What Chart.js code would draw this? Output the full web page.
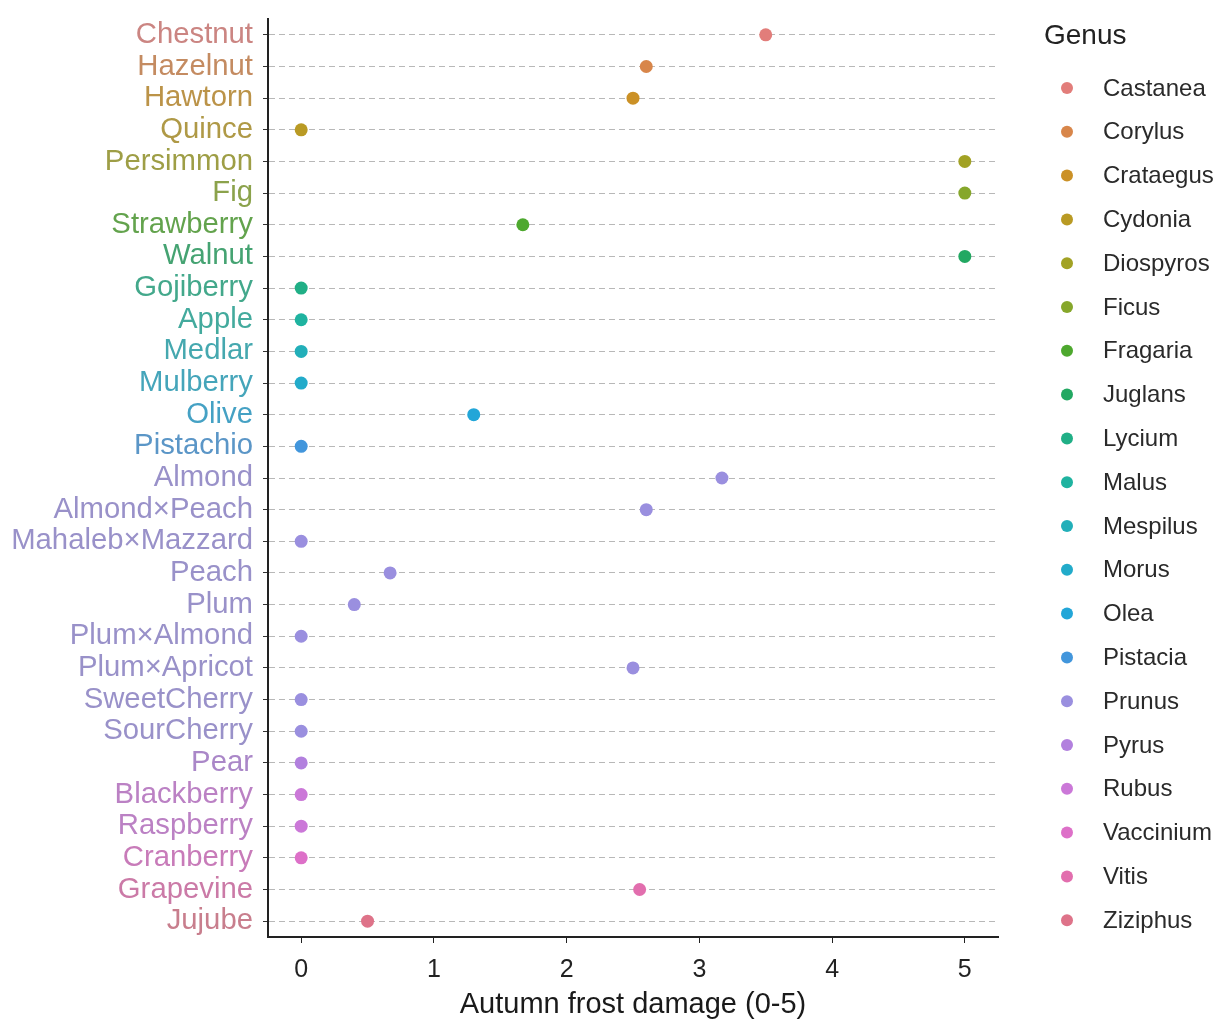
<!DOCTYPE html>
<html>
<head>
<meta charset="utf-8">
<title>Autumn frost damage</title>
<script src="https://cdn.jsdelivr.net/npm/chart.js@4.4.0/dist/chart.umd.min.js"></script>
<style>
  html, body { margin: 0; padding: 0; background: #fff; }
  #wrap { width: 1227px; height: 1024px; position: relative; }
</style>
</head>
<body>
<div id="wrap"><canvas id="frostChart"></canvas></div>
<script>
// ===== data =====
const fruits = [
  "Chestnut", "Hazelnut", "Hawtorn", "Quince", "Persimmon", "Fig", "Strawberry",
  "Walnut", "Gojiberry", "Apple", "Medlar", "Mulberry", "Olive", "Pistachio",
  "Almond", "Almond×Peach", "Mahaleb×Mazzard", "Peach", "Plum", "Plum×Almond",
  "Plum×Apricot", "SweetCherry", "SourCherry", "Pear", "Blackberry", "Raspberry",
  "Cranberry", "Grapevine", "Jujube"
];
const damage = [
  3.5, 2.6, 2.5, 0, 5, 5, 1.67,
  5, 0, 0, 0, 0, 1.3, 0,
  3.17, 2.6, 0, 0.67, 0.4, 0,
  2.5, 0, 0, 0, 0, 0,
  0, 2.55, 0.5
];
const fruitGenus = [
  "Castanea", "Corylus", "Crataegus", "Cydonia", "Diospyros", "Ficus", "Fragaria",
  "Juglans", "Lycium", "Malus", "Mespilus", "Morus", "Olea", "Pistacia",
  "Prunus", "Prunus", "Prunus", "Prunus", "Prunus", "Prunus",
  "Prunus", "Prunus", "Prunus", "Pyrus", "Rubus", "Rubus",
  "Vaccinium", "Vitis", "Ziziphus"
];
const genera = [
  "Castanea", "Corylus", "Crataegus", "Cydonia", "Diospyros", "Ficus", "Fragaria",
  "Juglans", "Lycium", "Malus", "Mespilus", "Morus", "Olea", "Pistacia",
  "Prunus", "Pyrus", "Rubus", "Vaccinium", "Vitis", "Ziziphus"
];
const genusColors = [
  "#E27D7A", "#D8864A", "#CB9126", "#B99A24", "#A2A224", "#86A72B", "#4DA82E",
  "#22A862", "#20AF86", "#1FB3A0", "#22AFB9", "#22ABCA", "#22A6D8", "#4296DC",
  "#9A8FDF", "#B280DE", "#CB78D8", "#DD70C8", "#E26EAE", "#DE7389"
];
const xTicks = [0, 1, 2, 3, 4, 5];

// ---- helpers ----
function colorOf(genus) {
  return genusColors[genera.indexOf(genus)];
}

// labels on the y axis are a greyer, lighter version of the point colour
function fade(hex, amt) {
  const n = parseInt(hex.slice(1), 16);
  const mix = (c) => Math.round(c + (150 - c) * amt);
  const r = mix((n >> 16) & 255), g = mix((n >> 8) & 255), b = mix(n & 255);
  return `rgb(${r},${g},${b})`;
}

const pointColors = fruitGenus.map(colorOf);
const labelColors = pointColors.map(c => fade(c, 0.3));

// ---- legend drawn on the right ----
const genusLegend = {
  id: "genusLegend",
  afterDraw(chart) {
    const { ctx, chartArea } = chart;
    const left = chartArea.right + 46;
    ctx.save();
    ctx.textBaseline = "middle";
    ctx.textAlign = "left";
    ctx.fillStyle = "#222";
    ctx.font = "28px 'Liberation Sans', Arial, sans-serif";
    ctx.fillText("Genus", left, 36);

    ctx.font = "24px 'Liberation Sans', Arial, sans-serif";
    const step = 43.8;
    genera.forEach((g, i) => {
      const y = 88 + i * step;
      ctx.beginPath();
      ctx.fillStyle = genusColors[i];
      ctx.arc(left + 23, y, 6, 0, Math.PI * 2);
      ctx.fill();
      ctx.fillStyle = "#2a2a2a";
      ctx.fillText(g, left + 59, y + 1);
    });
    ctx.restore();
  }
};

const ctx = document.getElementById("frostChart");
const chart = new Chart(ctx, {
  type: "scatter",
  data: {
    datasets: [{
      label: "Autumn frost damage",
      data: fruits.map((f, i) => ({ x: damage[i], y: f })),
      pointBackgroundColor: pointColors,
      pointBorderColor: pointColors,
      pointRadius: 6.5,
      pointHoverRadius: 6.5,
      borderWidth: 0
    }]
  },
  options: {
    responsive: true,
    maintainAspectRatio: false,
    animation: false,
    layout: { padding: { top: 19, right: 229, bottom: 0, left: 0 } },
    plugins: {
      legend: { display: false },
      tooltip: { enabled: false }
    },
    scales: {
      x: {
        type: "linear",
        min: -0.25,
        max: 5.25,
        afterBuildTicks: (scale) => { scale.ticks = xTicks.map(v => ({ value: v })); },
        afterFit: (scale) => { scale.height = 87; },
        ticks: {
          color: "#222",
          font: { family: "'Liberation Sans', Arial, sans-serif", size: 25 },
          padding: 12
        },
        grid: { display: true, drawOnChartArea: false, color: "#222", tickLength: 6 },
        border: { display: true, color: "#222", width: 2 },
        title: {
          display: true,
          text: "Autumn frost damage (0-5)",
          color: "#1a1a1a",
          font: { family: "'Liberation Sans', Arial, sans-serif", size: 29 },
          padding: { top: 2, bottom: 2 }
        }
      },
      y: {
        type: "category",
        labels: fruits,
        offset: true,
        afterFit: (scale) => {
          scale.width = 268;
          // let the first/last labels sit close to the plot edges
          scale.paddingTop = 0;
          scale.paddingBottom = 0;
        },
        ticks: {
          color: (c) => labelColors[c.index],
          font: { family: "'Liberation Sans', Arial, sans-serif", size: 29.3 },
          padding: 10,
          autoSkip: false
        },
        grid: { color: "#b8b8b8", tickColor: "#333", tickLength: 5, lineWidth: 1 },
        border: { display: true, color: "#222", width: 2, dash: [6, 4] }
      }
    }
  },
  plugins: [genusLegend]
});
</script>
</body>
</html>
